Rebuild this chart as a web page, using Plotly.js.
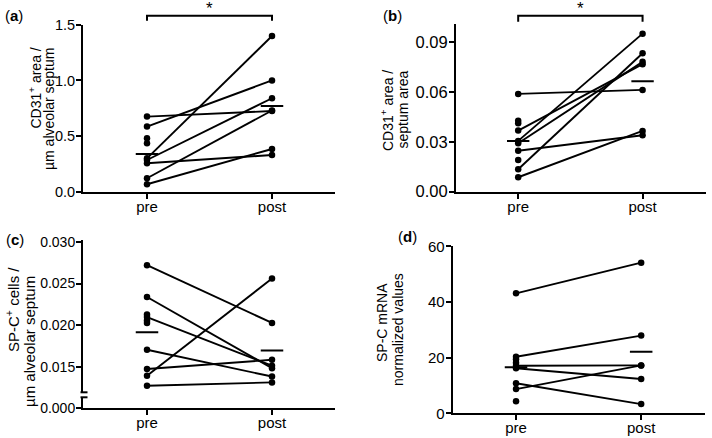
<!DOCTYPE html>
<html>
<head>
<meta charset="utf-8">
<script src="https://cdn.plot.ly/plotly-3.0.1.min.js"></script>
<style>html,body{margin:0;padding:0;background:#fff}#chart{width:712px;height:438px}</style>
</head>
<body>
<div id="chart"></div>
<script>
// ---- data ----
var groups = ['pre', 'post'];
// (a) CD31+ area / µm alveolar septum
var aPrePaired  = [0.675, 0.585, 0.300, 0.285, 0.256, 0.121, 0.067];
var aPostPaired = [0.725, 1.000, 1.400, 0.840, 0.330, 0.730, 0.384];
var aPreOnly    = [0.481, 0.436];
var aMeans      = [0.339, 0.771];
// (b) CD31+ area / septum area
var bPrePaired  = [0.0589, 0.0368, 0.0306, 0.0292, 0.0135, 0.0247, 0.0087];
var bPostPaired = [0.0613, 0.0768, 0.0952, 0.0782, 0.0834, 0.0340, 0.0366];
var bPreOnly    = [0.0428, 0.0412, 0.0191];
var bMeans      = [0.0306, 0.0665];
// (c) SP-C+ cells / µm alveolar septum
var cPrePaired  = [0.0272, 0.0234, 0.0210, 0.0171, 0.0148, 0.0140, 0.0128];
var cPostPaired = [0.0203, 0.0149, 0.0152, 0.0139, 0.0159, 0.0256, 0.0132];
var cPreOnly    = [0.0213, 0.0206, 0.0203];
var cMeans      = [0.0192, 0.0170];
// (d) SP-C mRNA normalized values
var dPrePaired  = [43.1, 20.3, 17.1, 16.2, 10.8, 8.7];
var dPostPaired = [54.1, 27.9, 17.2, 12.3, 3.3, 17.2];
var dPreOnly    = [19.4, 18.2, 4.3];
var dMeans      = [16.5, 22.1];

// ---- helpers ----
var W = 712, H = 438;
function px(x){ return x / W; }
function py(y){ return 1 - y / H; }

function panelTraces(pre, post, preOnly, means, xa, ya){
  var lx = [], ly = [];
  for (var i = 0; i < pre.length; i++){
    lx.push(0, 1, null); ly.push(pre[i], post[i], null);
  }
  var mx = [], my = [];
  pre.concat(preOnly).forEach(function(v){ mx.push(0); my.push(v); });
  post.forEach(function(v){ mx.push(1); my.push(v); });
  var hw = 0.09;
  return [
    {type:'scatter', mode:'lines', x:lx, y:ly, xaxis:xa, yaxis:ya,
     line:{color:'#000', width:1.9}, hoverinfo:'skip', showlegend:false},
    {type:'scatter', mode:'markers', x:mx, y:my, xaxis:xa, yaxis:ya,
     marker:{color:'#000', size:6.5}, showlegend:false},
    {type:'scatter', mode:'lines', x:[-hw, hw, null, 1-hw, 1+hw], y:[means[0], means[0], null, means[1], means[1]],
     xaxis:xa, yaxis:ya, line:{color:'#000', width:2}, hoverinfo:'skip', showlegend:false}
  ];
}

var data = []
  .concat(panelTraces(aPrePaired, aPostPaired, aPreOnly, aMeans, 'x', 'y'))
  .concat(panelTraces(bPrePaired, bPostPaired, bPreOnly, bMeans, 'x2', 'y2'))
  .concat(panelTraces(cPrePaired, cPostPaired, cPreOnly, cMeans, 'x3', 'y3'))
  .concat(panelTraces(dPrePaired, dPostPaired, dPreOnly, dMeans, 'x4', 'y4'));
// empty trace so the lower (broken) segment of panel c's y axis is drawn
data.push({type:'scatter', mode:'markers', x:[], y:[], xaxis:'x3', yaxis:'y5', showlegend:false});

var FONT = 'Arial, Liberation Sans, sans-serif';
function tf(s){ return {family: FONT, size: s, color: '#000'}; }

function xAxis(d0, d1, anchor, rng){
  return {domain:[d0, d1], anchor:anchor, range:rng, tickvals:[0,1], ticktext:groups,
    showgrid:false, zeroline:false, showline:true, linecolor:'#000', linewidth:2,
    ticks:'outside', ticklen:5, tickwidth:2, tickcolor:'#000', tickfont:tf(15),
    ticklabelstandoff:-5, fixedrange:true};
}
function yAxis(d0, d1, anchor, rng, tickvals, fmt, fs){
  return {domain:[d0, d1], anchor:anchor, range:rng, tickvals:tickvals, tickformat:fmt,
    showgrid:false, zeroline:false, showline:true, linecolor:'#000', linewidth:2,
    ticks:'outside', ticklen:5, tickwidth:2, tickcolor:'#000', tickfont:tf(fs),
    ticklabelstandoff:-2, fixedrange:true};
}

var layout = {
  width: W, height: H,
  margin: {l:0, r:0, t:0, b:0},
  paper_bgcolor: '#fff', plot_bgcolor: 'rgba(0,0,0,0)',
  showlegend: false,
  font: {family: FONT, color: '#000'},
  xaxis:  xAxis(px(83), px(335), 'y', [-0.512, 1.504]),
  yaxis:  yAxis(py(191.7), py(24.5), 'x', [0, 1.503], [0, 0.5, 1.0, 1.5], '.1f', 14.5),
  xaxis2: xAxis(px(456), px(706), 'y2', [-0.50, 1.51]),
  yaxis2: yAxis(py(191.7), py(24), 'x2', [0, 0.101], [0, 0.03, 0.06, 0.09], '.2f', 16.5),
  xaxis3: xAxis(px(83), px(335), 'y5', [-0.512, 1.504]),
  yaxis3: yAxis(py(392.3), py(240), 'x3', [0.01202, 0.0302], [0.015, 0.020, 0.025, 0.030], '.3f', 14),
  yaxis5: yAxis(py(408), py(397.3), 'x3', [0, 0.00127], [0], '.3f', 14),
  xaxis4: xAxis(px(452.7), px(705), 'y4', [-0.506, 1.51]),
  yaxis4: yAxis(py(413.3), py(245.7), 'x4', [0, 60.2], [0, 20, 40, 60], 'd', 15),
  shapes: [
    // bracket (a)
    {type:'path', xref:'x', yref:'paper', path:'M 0,' + py(20.7) + ' L 0,' + py(15.7) + ' L 1,' + py(15.7) + ' L 1,' + py(20.7),
     line:{color:'#000', width:2}},
    // bracket (b)
    {type:'path', xref:'x2', yref:'paper', path:'M 0,' + py(21.7) + ' L 0,' + py(15.7) + ' L 1,' + py(15.7) + ' L 1,' + py(21.7),
     line:{color:'#000', width:2}},
    // axis break marks (c)
    {type:'line', xref:'paper', yref:'paper', x0:px(80.5), x1:px(87.5), y0:py(392.3), y1:py(392.3), line:{color:'#000', width:2}},
    {type:'line', xref:'paper', yref:'paper', x0:px(80.5), x1:px(87.5), y0:py(397.3), y1:py(397.3), line:{color:'#000', width:2}}
  ],
  annotations: [
    {text:'(<b>a</b>)', xref:'paper', yref:'paper', x:px(3), y:py(15), xanchor:'left', yanchor:'middle', showarrow:false, font:{family:FONT, size:15}},
    {text:'(<b>b</b>)', xref:'paper', yref:'paper', x:px(381), y:py(15), xanchor:'left', yanchor:'middle', showarrow:false, font:{family:FONT, size:15}},
    {text:'(<b>c</b>)', xref:'paper', yref:'paper', x:px(4), y:py(239), xanchor:'left', yanchor:'middle', showarrow:false, font:{family:FONT, size:15}},
    {text:'(<b>d</b>)', xref:'paper', yref:'paper', x:px(396), y:py(236), xanchor:'left', yanchor:'middle', showarrow:false, font:{family:FONT, size:15}},
    {text:'*', xref:'x', yref:'paper', x:0.5, y:py(9), xanchor:'center', yanchor:'middle', showarrow:false, font:{family:FONT, size:17}},
    {text:'*', xref:'x2', yref:'paper', x:0.5, y:py(9), xanchor:'center', yanchor:'middle', showarrow:false, font:{family:FONT, size:17}},
    // y titles
    {text:'CD31<sup>+</sup> area /', xref:'paper', yref:'paper', x:px(35), y:py(88.5), textangle:-90, xanchor:'center', yanchor:'middle', showarrow:false, font:{family:FONT, size:14}},
    {text:'µm alveolar septum', xref:'paper', yref:'paper', x:px(49), y:py(109), textangle:-90, xanchor:'center', yanchor:'middle', showarrow:false, font:{family:FONT, size:14}},
    {text:'CD31<sup>+</sup> area /', xref:'paper', yref:'paper', x:px(387), y:py(111), textangle:-90, xanchor:'center', yanchor:'middle', showarrow:false, font:{family:FONT, size:14}},
    {text:'septum area', xref:'paper', yref:'paper', x:px(402), y:py(109.5), textangle:-90, xanchor:'center', yanchor:'middle', showarrow:false, font:{family:FONT, size:14}},
    {text:'SP-C<sup>+</sup> cells /', xref:'paper', yref:'paper', x:px(12), y:py(310), textangle:-90, xanchor:'center', yanchor:'middle', showarrow:false, font:{family:FONT, size:15}},
    {text:'µm alveolar septum', xref:'paper', yref:'paper', x:px(29), y:py(342), textangle:-90, xanchor:'center', yanchor:'middle', showarrow:false, font:{family:FONT, size:15}},
    {text:'SP-C mRNA', xref:'paper', yref:'paper', x:px(382), y:py(323), textangle:-90, xanchor:'center', yanchor:'middle', showarrow:false, font:{family:FONT, size:14}},
    {text:'normalized values', xref:'paper', yref:'paper', x:px(398), y:py(330), textangle:-90, xanchor:'center', yanchor:'middle', showarrow:false, font:{family:FONT, size:14}}
  ]
};

Plotly.newPlot('chart', data, layout, {displayModeBar:false, staticPlot:true});
</script>
</body>
</html>
